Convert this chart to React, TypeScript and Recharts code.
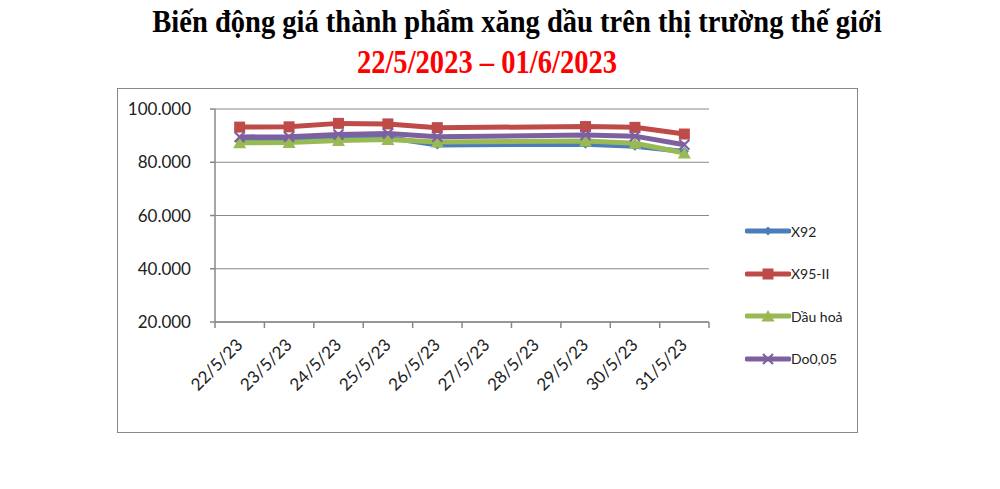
import { LineChart, Line, XAxis, YAxis, CartesianGrid, Legend } from "recharts";

// ngày giao dịch (27/5, 28/5 là cuối tuần, không có giá)
const dates = ["22/5/23", "23/5/23", "24/5/23", "25/5/23", "26/5/23", "27/5/23", "28/5/23", "29/5/23", "30/5/23", "31/5/23"];
const x92 = [88.0, 88.2, 89.0, 89.3, 86.5, null, null, 86.8, 86.0, 84.0];
const x95 = [93.2, 93.3, 94.6, 94.4, 93.0, null, null, 93.4, 93.1, 90.6];
const dauHoa = [87.3, 87.4, 88.2, 88.5, 87.6, null, null, 88.0, 87.1, 83.5];
const do005 = [89.5, 89.6, 90.4, 90.8, 89.6, null, null, 90.2, 89.8, 86.6];
const yTicks = [20, 40, 60, 80, 100];

const data = dates.map((d, i) => ({ date: d, x92: x92[i], x95: x95[i], dauHoa: dauHoa[i], do005: do005[i] }));

const PLOT_W = 493;
const AXIS_GREY = "#888888";
const FONT = "Lato, 'Open Sans', sans-serif";

const series = [
  { key: "x92", name: "X92", color: "#4a7ebb", marker: "diamond" },
  { key: "x95", name: "X95-II", color: "#be4b48", marker: "square" },
  { key: "dauHoa", name: "Dầu hoả", color: "#98b954", marker: "triangle" },
  { key: "do005", name: "Do0,05", color: "#7d60a0", marker: "cross" },
];

function Marker({ type, cx, cy, color }: { type: string; cx: number; cy: number; color: string }) {
  if (type === "diamond") {
    return <polygon points={`${cx},${cy - 4.5} ${cx + 4.5},${cy} ${cx},${cy + 4.5} ${cx - 4.5},${cy}`} fill={color} />;
  }
  if (type === "square") {
    return <rect x={cx - 5.5} y={cy - 5.5} width={11} height={11} fill={color} />;
  }
  if (type === "triangle") {
    return <polygon points={`${cx},${cy - 6} ${cx + 6.5},${cy + 5.5} ${cx - 6.5},${cy + 5.5}`} fill={color} />;
  }
  return (
    <g stroke={color} strokeWidth={2.2}>
      <line x1={cx - 5} y1={cy - 5} x2={cx + 5} y2={cy + 5} />
      <line x1={cx - 5} y1={cy + 5} x2={cx + 5} y2={cy - 5} />
    </g>
  );
}

const makeDot = (type: string, color: string) => (props: any) => {
  const { cx, cy, index } = props;
  if (cx == null || cy == null || props.value == null) return <g key={`e-${index}`} />;
  return (
    <g key={`d-${index}`}>
      <Marker type={type} cx={cx} cy={cy} color={color} />
    </g>
  );
};

const XTick = (props: any) => {
  const { x, y, payload, index } = props;
  const half = PLOT_W / dates.length / 2;
  const tx = x + 4;
  const ty = y + 24;
  return (
    <g>
      <line x1={x - half} x2={x - half} y1={y} y2={y + 6} stroke={AXIS_GREY} strokeWidth={1.5} />
      {index === dates.length - 1 && (
        <line x1={x + half} x2={x + half} y1={y} y2={y + 6} stroke={AXIS_GREY} strokeWidth={1.5} />
      )}
      <text
        x={tx}
        y={ty}
        textAnchor="end"
        transform={`rotate(-45 ${tx} ${ty})`}
        fontSize={17}
        fontFamily={FONT}
        fill="#222"
      >
        {payload.value}
      </text>
    </g>
  );
};

const LegendContent = () => (
  <div style={{ fontFamily: FONT, fontSize: 14, color: "#222" }}>
    {series.map((s) => (
      <div key={s.key} style={{ height: 42.5, display: "flex", alignItems: "center" }}>
        <svg width={46} height={14} style={{ marginRight: 0 }}>
          <line x1={2} x2={44} y1={7} y2={7} stroke={s.color} strokeWidth={5} strokeLinecap="round" />
          <Marker type={s.marker} cx={23} cy={7} color={s.color} />
        </svg>
        <span>{s.name}</span>
      </div>
    ))}
  </div>
);

export default function App() {
  return (
    <div style={{ position: "relative", width: 984, height: 473 }}>
      <div
        style={{
          position: "absolute",
          left: 9,
          top: -4,
          width: 1000,
          textAlign: "center",
          fontFamily: "'Liberation Serif', serif",
          fontWeight: "bold",
          fontSize: 31,
          lineHeight: "36px",
          transform: "scaleX(0.92)",
          whiteSpace: "nowrap",
        }}
      >
        Biến động giá thành phẩm xăng dầu trên thị trường thế giới
      </div>
      <div
        style={{
          position: "absolute",
          left: -21,
          top: 35,
          width: 1000,
          textAlign: "center",
          fontFamily: "'Liberation Serif', serif",
          fontWeight: "bold",
          fontSize: 34,
          lineHeight: "38px",
          color: "#ff0000",
          transform: "scaleX(0.84)",
          whiteSpace: "nowrap",
        }}
      >
        22/5/2023 – 01/6/2023
      </div>
      <div
        style={{
          position: "absolute",
          left: 109,
          top: 80,
          width: 739,
          height: 343,
          border: "1.5px solid #888",
          background: "#fff",
        }}
      >
        <LineChart width={739} height={343} data={data} margin={{ top: 20, right: 28, bottom: 50, left: 0 }}>
          <CartesianGrid horizontal vertical={false} stroke={AXIS_GREY} strokeWidth={1.2} />
          <XAxis
            dataKey="date"
            height={60}
            interval={0}
            padding={{ left: PLOT_W / dates.length / 2, right: PLOT_W / dates.length / 2 }}
            axisLine={{ stroke: AXIS_GREY, strokeWidth: 1.5 }}
            tickLine={false}
            tickSize={0}
            tickMargin={0}
            tick={<XTick />}
          />
          <YAxis
            width={97}
            domain={[20, 100]}
            ticks={yTicks}
            interval={0}
            tickFormatter={(v: number) => v.toFixed(3)}
            axisLine={{ stroke: AXIS_GREY, strokeWidth: 1.5 }}
            tickLine={{ stroke: AXIS_GREY, strokeWidth: 1.5 }}
            tickSize={5}
            tickMargin={19}
            tick={{ fontSize: 17, fontFamily: FONT, fill: "#222" }}
          />
          <Legend
            layout="vertical"
            align="right"
            verticalAlign="middle"
            content={<LegendContent />}
            wrapperStyle={{ width: 120, left: 627, right: "auto", top: 121 }}
          />
          {series.map((s) => (
            <Line
              key={s.key}
              dataKey={s.key}
              name={s.name}
              type="linear"
              stroke={s.color}
              strokeWidth={5}
              connectNulls
              dot={makeDot(s.marker, s.color)}
              activeDot={false}
              isAnimationActive={false}
            />
          ))}
        </LineChart>
      </div>
    </div>
  );
}
